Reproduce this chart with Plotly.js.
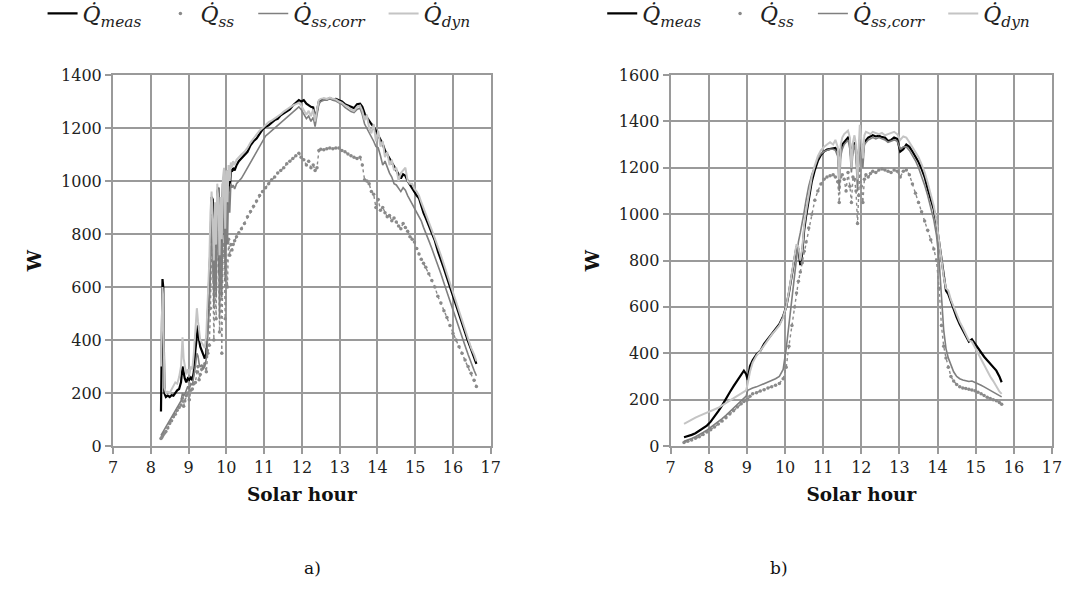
<!DOCTYPE html>
<html>
<head>
<meta charset="utf-8">
<script src="https://cdn.plot.ly/plotly-3.0.1.min.js"></script>
<style>html,body{margin:0;padding:0;background:#fff;}#chart{width:1066px;height:606px;}</style>
</head>
<body>
<div id="chart"></div>
<script>
// ---------- Chart a) ----------
const hourA = [8.27,8.29,8.31,8.33,8.36,8.40,8.45,8.50,8.55,8.60,8.65,8.70,8.75,8.80,8.84,8.87,8.90,8.94,8.98,9.02,9.06,9.10,9.14,9.18,9.22,9.25,9.28,9.31,9.35,9.39,9.43,9.47,9.51,9.55,9.58,9.61,9.64,9.67,9.70,9.73,9.76,9.79,9.82,9.85,9.88,9.91,9.94,9.97,10.00,10.03,10.06,10.09,10.12,10.15,10.18,10.22,10.27,10.33,10.40,10.48,10.56,10.64,10.72,10.80,10.88,10.96,11.04,11.12,11.20,11.28,11.36,11.44,11.52,11.60,11.68,11.76,11.84,11.92,11.98,12.05,12.12,12.18,12.24,12.30,12.35,12.40,12.45,12.50,12.58,12.66,12.74,12.82,12.90,12.98,13.06,13.14,13.22,13.30,13.38,13.46,13.54,13.60,13.66,13.72,13.78,13.84,13.90,13.96,14.02,14.08,14.14,14.20,14.26,14.32,14.38,14.44,14.50,14.56,14.62,14.68,14.74,14.80,14.86,14.92,14.98,15.04,15.10,15.16,15.22,15.28,15.36,15.44,15.52,15.60,15.68,15.76,15.84,15.92,16.00,16.08,16.16,16.24,16.32,16.40,16.48,16.56,16.62];
const measA = [130,610,630,600,200,185,190,185,192,190,200,210,215,240,300,270,255,240,255,250,258,248,280,360,430,455,400,375,360,345,330,350,480,600,750,940,930,620,860,700,960,975,650,880,720,990,1000,760,1005,880,1040,960,1045,1035,1050,1040,1060,1075,1085,1100,1110,1135,1150,1160,1178,1195,1205,1210,1220,1230,1235,1248,1255,1262,1270,1285,1295,1305,1300,1305,1292,1285,1280,1278,1240,1265,1300,1305,1310,1308,1312,1308,1310,1305,1300,1290,1285,1280,1275,1290,1292,1280,1255,1240,1225,1215,1205,1190,1175,1160,1140,1115,1100,1080,1065,1050,1035,1020,1010,1025,1020,1000,985,970,960,945,935,905,880,860,830,800,775,735,705,670,635,600,565,530,495,460,425,395,365,335,310];
const ssA = [28,32,38,42,48,55,68,85,95,110,120,135,145,155,180,150,170,190,200,175,210,215,235,240,280,300,250,270,290,300,310,280,350,380,520,760,700,400,650,480,800,780,430,700,350,720,760,480,700,600,780,720,760,740,760,775,790,805,820,840,865,885,905,925,945,960,975,990,1005,1015,1030,1040,1050,1065,1075,1085,1095,1105,1090,1080,1060,1075,1050,1060,1040,1050,1115,1120,1118,1122,1125,1122,1125,1125,1115,1110,1102,1095,1090,1085,1090,1060,1005,1000,990,960,950,900,930,890,900,880,865,870,850,860,845,830,820,840,825,810,790,780,770,745,725,705,690,675,650,625,600,565,540,510,485,455,425,400,375,350,325,300,275,248,225];
const corrA = [40,45,50,55,60,70,80,95,105,120,130,145,155,170,200,190,195,210,225,215,235,230,260,300,350,340,310,300,305,290,300,330,420,520,650,870,820,520,780,560,880,900,480,800,560,920,950,620,960,760,980,880,990,975,985,970,990,1000,1010,1030,1050,1075,1095,1115,1135,1155,1170,1180,1190,1200,1210,1222,1232,1240,1250,1262,1272,1280,1270,1250,1235,1245,1225,1240,1205,1250,1290,1300,1305,1305,1310,1305,1302,1295,1290,1278,1270,1262,1258,1270,1275,1250,1215,1200,1180,1165,1150,1130,1125,1095,1060,1075,1050,1030,1015,990,985,970,960,975,965,945,930,915,900,885,870,850,825,800,775,745,715,680,650,615,580,545,510,478,445,410,378,345,312,285,265];
const dynA = [300,560,600,560,220,200,205,200,215,225,240,235,260,300,410,330,300,270,290,270,300,290,350,450,520,470,430,400,390,380,370,420,560,700,880,960,850,700,920,760,990,930,720,940,780,1010,1050,820,1040,920,1060,1000,1070,1050,1075,1060,1080,1090,1100,1110,1125,1145,1160,1172,1190,1200,1210,1222,1228,1235,1245,1252,1262,1270,1275,1285,1290,1295,1285,1270,1250,1265,1245,1270,1225,1270,1305,1310,1312,1310,1315,1310,1308,1300,1295,1285,1280,1270,1265,1280,1285,1265,1230,1250,1200,1180,1215,1150,1190,1130,1150,1090,1110,1060,1080,1040,1050,1000,1030,1040,1050,1000,990,990,970,960,945,920,895,875,845,815,785,750,720,685,650,615,580,545,505,470,435,400,370,345,320];

// ---------- Chart b) ----------
const hourB = [7.35,7.45,7.55,7.65,7.75,7.85,7.95,8.05,8.15,8.25,8.35,8.45,8.55,8.65,8.75,8.85,8.92,8.98,9.02,9.08,9.15,9.25,9.35,9.45,9.55,9.65,9.75,9.85,9.95,10.03,10.10,10.18,10.25,10.30,10.35,10.40,10.45,10.50,10.55,10.62,10.70,10.78,10.86,10.94,11.02,11.10,11.18,11.26,11.32,11.38,11.42,11.46,11.50,11.55,11.60,11.65,11.70,11.74,11.78,11.82,11.86,11.90,11.93,11.96,12.00,12.04,12.08,12.12,12.18,12.24,12.30,12.38,12.46,12.54,12.62,12.70,12.78,12.86,12.94,13.02,13.10,13.18,13.26,13.34,13.42,13.50,13.58,13.66,13.74,13.82,13.90,13.97,14.04,14.10,14.16,14.22,14.28,14.35,14.42,14.50,14.58,14.66,14.74,14.82,14.90,14.98,15.06,15.14,15.22,15.30,15.38,15.46,15.54,15.62,15.68];
const measB = [38,42,48,55,65,75,88,105,125,150,175,205,232,258,285,310,325,310,285,345,370,395,410,440,460,480,505,525,560,600,660,740,820,860,850,780,830,930,990,1070,1140,1190,1230,1255,1270,1278,1280,1282,1285,1270,1200,1280,1300,1310,1320,1330,1310,1230,1290,1310,1280,1180,1250,1320,1300,1260,1310,1320,1330,1335,1340,1335,1338,1332,1330,1315,1320,1330,1325,1270,1280,1300,1290,1270,1250,1225,1195,1160,1110,1065,1020,960,880,810,740,670,655,620,590,555,525,500,475,450,460,440,420,400,385,370,355,340,325,300,275];
const ssB = [15,20,26,33,40,50,60,70,82,95,108,122,138,152,168,182,192,198,200,215,225,230,237,243,250,256,262,270,290,340,430,520,600,660,710,750,790,840,880,940,1000,1060,1100,1130,1150,1160,1165,1170,1160,1140,1050,1160,1170,1150,1100,1180,1120,1050,1160,1150,1100,960,1080,1190,1120,1050,1150,1170,1160,1175,1185,1180,1190,1195,1190,1185,1180,1190,1185,1160,1185,1190,1170,1130,1090,1050,1010,970,930,890,850,800,680,520,430,380,340,300,280,265,255,250,248,245,242,238,232,225,218,210,205,200,195,188,180];
const corrB = [20,25,32,40,48,58,68,80,92,105,118,132,148,162,178,195,205,215,240,245,250,255,262,268,275,283,290,300,330,420,520,640,760,830,880,920,960,1010,1060,1120,1170,1210,1240,1260,1270,1275,1280,1280,1275,1250,1100,1250,1280,1300,1310,1320,1280,1180,1270,1300,1250,1100,1220,1340,1270,1200,1300,1310,1320,1325,1330,1325,1330,1325,1320,1310,1315,1320,1315,1280,1290,1290,1275,1255,1230,1200,1165,1125,1080,1030,975,910,800,650,500,420,380,350,320,300,290,285,280,278,280,275,270,262,255,248,240,233,225,218,212];
const dynB = [95,105,115,122,130,137,143,150,158,165,175,185,195,205,215,225,235,240,270,320,360,390,410,435,455,480,500,520,555,600,665,750,830,870,860,800,850,950,1010,1090,1160,1210,1250,1275,1290,1300,1310,1300,1320,1290,1150,1300,1330,1345,1355,1360,1330,1200,1310,1340,1300,1150,1280,1385,1320,1240,1340,1355,1350,1345,1355,1350,1345,1350,1340,1345,1350,1355,1345,1320,1335,1330,1310,1290,1270,1245,1215,1180,1135,1085,1035,970,880,800,730,680,670,630,600,565,535,510,485,455,450,425,400,370,345,320,300,280,255,235,225];

const xTicks = [7,8,9,10,11,12,13,14,15,16,17];
const pad = '&nbsp;&nbsp;';
const labels = {
  meas: '<i>Q̇<sub>meas</sub></i>' + pad,
  ss: '<i>Q̇<sub>ss</sub></i>' + pad,
  corr: '<i>Q̇<sub>ss,corr</sub></i>' + pad,
  dyn: '<i>Q̇<sub>dyn</sub></i>'
};
const captions = ['a)', 'b)'];
const yMax = [1400, 1600];

const serif = 'DejaVu Serif';
const gridC = '#9a9a9a';
const cMeas = '#000000', cSs = '#8a8a8a', cCorr = '#7f7f7f', cDyn = '#c4c4c4';

function series(hours, meas, ss, corr, dyn, xa, ya, lg) {
  return [
    {x: hours, y: meas, xaxis: xa, yaxis: ya, mode: 'lines', name: labels.meas, legend: lg, legendrank: 1,
     line: {color: cMeas, width: 2.2}},
    {x: hours, y: ss, xaxis: xa, yaxis: ya, mode: 'lines', showlegend: false,
     line: {color: cSs, width: 1.4, dash: 'dot'}},
    {x: hours, y: ss, xaxis: xa, yaxis: ya, mode: 'markers', name: labels.ss, legend: lg, legendrank: 2,
     marker: {color: cSs, size: 3.5}},
    {x: hours, y: corr, xaxis: xa, yaxis: ya, mode: 'lines', name: labels.corr, legend: lg, legendrank: 3,
     line: {color: cCorr, width: 1.6}},
    {x: hours, y: dyn, xaxis: xa, yaxis: ya, mode: 'lines', name: labels.dyn, legend: lg, legendrank: 4,
     line: {color: cDyn, width: 2.0}}
  ];
}

const data = [].concat(
  series(hourA, measA, ssA, corrA, dynA, 'x', 'y', 'legend'),
  series(hourB, measB, ssB, corrB, dynB, 'x2', 'y2', 'legend2')
);

function xAxis(domain, anchor) {
  return {
    domain: domain, anchor: anchor, range: [7, 17], tickvals: xTicks,
    showgrid: true, gridcolor: gridC, gridwidth: 2,
    showline: true, linecolor: gridC, linewidth: 2, mirror: true,
    ticks: 'outside', ticklen: 6, tickcolor: gridC, tickwidth: 2,
    zeroline: false, automargin: false,
    tickfont: {family: serif, size: 16, color: '#222'},
    title: {text: '<b>Solar hour</b>', font: {family: serif, size: 18.5, color: '#111'}, standoff: 12}
  };
}
function yAxis(max, anchor) {
  return {
    domain: [0, 1], anchor: anchor, range: [0, max], dtick: 200,
    showgrid: true, gridcolor: gridC, gridwidth: 2,
    showline: true, linecolor: gridC, linewidth: 2, mirror: true,
    ticks: 'outside', ticklen: 6, tickcolor: gridC, tickwidth: 2,
    zeroline: false, automargin: false,
    tickfont: {family: serif, size: 16, color: '#222'},
    title: {text: '<b>W</b>', font: {family: serif, size: 19, color: '#111'}, standoff: 14}
  };
}

const legendBase = {
  orientation: 'h', xanchor: 'left', yanchor: 'top', y: 1.222,
  bgcolor: 'rgba(0,0,0,0)', font: {family: serif, size: 22, color: '#222'},
  itemwidth: 30, tracegroupgap: 0
};

const layout = {
  width: 1066, height: 606,
  font: {family: serif},
  margin: {l: 113, r: 14, t: 75, b: 160, autoexpand: false},
  paper_bgcolor: '#ffffff', plot_bgcolor: '#ffffff',
  showlegend: true,
  xaxis: xAxis([0, 0.4023], 'y'),
  yaxis: yAxis(yMax[0], 'x'),
  xaxis2: xAxis([0.5939, 1], 'y2'),
  yaxis2: yAxis(yMax[1], 'x2'),
  legend: Object.assign({}, legendBase, {x: -0.075}),
  legend2: Object.assign({}, legendBase, {x: 0.521}),
  annotations: [
    {text: captions[0], xref: 'paper', yref: 'paper', x: 0.201, y: -0.329, yanchor: 'middle', showarrow: false,
     font: {family: serif, size: 17, color: '#111'}},
    {text: captions[1], xref: 'paper', yref: 'paper', x: 0.7206, y: -0.329, yanchor: 'middle', showarrow: false,
     font: {family: serif, size: 17, color: '#111'}}
  ]
};

Plotly.newPlot('chart', data, layout, {displayModeBar: false, staticPlot: true});
</script>
</body>
</html>
